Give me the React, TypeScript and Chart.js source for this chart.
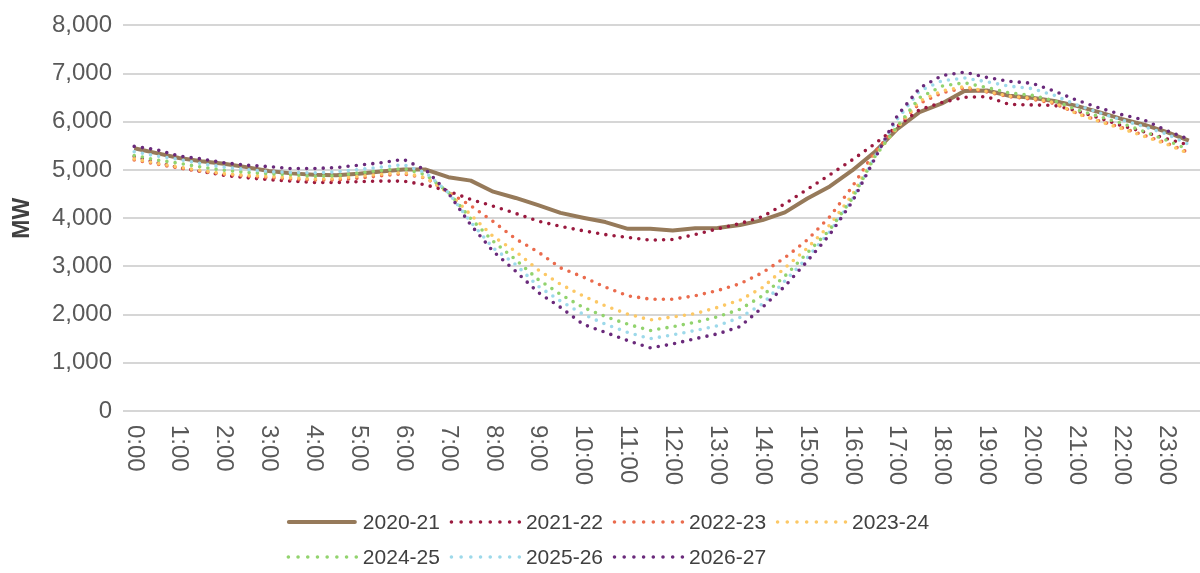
import React, { useEffect, useRef } from 'react';
import { Chart, registerables } from 'chart.js';

Chart.register(...registerables);

const timeLabels = [
  '0:00', '0:30', '1:00', '1:30', '2:00', '2:30', '3:00', '3:30', '4:00', '4:30', '5:00', '5:30',
  '6:00', '6:30', '7:00', '7:30', '8:00', '8:30', '9:00', '9:30', '10:00', '10:30', '11:00', '11:30',
  '12:00', '12:30', '13:00', '13:30', '14:00', '14:30', '15:00', '15:30', '16:00', '16:30', '17:00', '17:30',
  '18:00', '18:30', '19:00', '19:30', '20:00', '20:30', '21:00', '21:30', '22:00', '22:30', '23:00', '23:30',
];

const seriesNames = ['2020-21', '2021-22', '2022-23', '2023-24', '2024-25', '2025-26', '2026-27'];

const s2020_21 = [
  5450, 5350, 5250, 5180, 5130, 5060, 4980, 4930, 4900, 4890, 4920, 4970,
  5010, 5010, 4850, 4780, 4550, 4420, 4270, 4110, 4010, 3920, 3780, 3780,
  3745, 3790, 3795, 3860, 3960, 4120, 4410, 4660, 4990, 5370, 5850, 6200,
  6380, 6640, 6650, 6540, 6500, 6430, 6330, 6200, 6060, 5940, 5790, 5610,
];
const s2021_22 = [
  5280, 5150, 5050, 4970, 4890, 4840, 4800, 4770, 4740, 4740, 4760, 4770,
  4770, 4690, 4560, 4390, 4250, 4100, 3940, 3830, 3740, 3660, 3600, 3545,
  3560, 3660, 3780, 3890, 4030, 4300, 4600, 4900, 5210, 5540, 5900, 6250,
  6400, 6510, 6520, 6360, 6350, 6340, 6230, 6080, 5920, 5790, 5650, 5520,
];
const s2022_23 = [
  5210, 5120, 5040, 4970, 4910, 4870, 4840, 4810, 4790, 4790, 4830, 4880,
  4920, 4830, 4540, 4260, 3930, 3570, 3300, 2970, 2780, 2570, 2390, 2320,
  2320, 2390, 2500, 2640, 2870, 3180, 3550, 4030, 4650, 5370, 5900, 6380,
  6600, 6700, 6620, 6520, 6470, 6380, 6180, 6020, 5880, 5720, 5560, 5360,
];
const s2023_24 = [
  5230, 5140, 5060, 4990, 4925, 4890, 4870, 4840, 4815, 4820, 4870, 4910,
  4945, 4840, 4530, 4070, 3620, 3310, 2930, 2630, 2390, 2180, 2010, 1890,
  1950, 2020, 2150, 2300, 2560, 2970, 3380, 3860, 4480, 5300, 5870, 6430,
  6640, 6730, 6630, 6530, 6490, 6400, 6170, 6010, 5860, 5700, 5540, 5340,
];
const s2024_25 = [
  5300, 5210, 5140, 5060, 4995, 4950, 4925, 4900, 4870, 4880, 4940, 4990,
  5030, 4900, 4540, 3990, 3520, 3140, 2730, 2420, 2150, 1960, 1800, 1670,
  1750, 1840, 1955, 2110, 2390, 2800, 3280, 3760, 4410, 5270, 5900, 6500,
  6740, 6810, 6710, 6600, 6550, 6440, 6250, 6110, 5970, 5800, 5620, 5420,
];
const s2025_26 = [
  5380, 5290, 5220, 5130, 5060, 5010, 4965, 4950, 4940, 4960, 5010, 5060,
  5110, 4940, 4530, 3920, 3380, 3040, 2590, 2280, 2010, 1800, 1630, 1500,
  1580, 1670, 1770, 1940, 2220, 2700, 3180, 3720, 4380, 5270, 6050, 6640,
  6850, 6910, 6830, 6740, 6690, 6550, 6350, 6190, 6040, 5900, 5750, 5530,
];
const s2026_27 = [
  5490, 5420, 5290, 5230, 5150, 5100, 5070, 5030, 5030, 5050, 5100, 5150,
  5220, 5000, 4520, 3860, 3310, 2900, 2460, 2150, 1800, 1630, 1460, 1310,
  1390, 1500, 1600, 1750, 2150, 2590, 3110, 3660, 4340, 5230, 6120, 6700,
  6960, 7030, 6920, 6840, 6800, 6640, 6450, 6290, 6150, 6040, 5820, 5640,
];

const seriesValues = [s2020_21, s2021_22, s2022_23, s2023_24, s2024_25, s2025_26, s2026_27];
const seriesColors = ['#967a5a', '#9a1a3f', '#ea6b4d', '#fcc865', '#92d36e', '#9dd9ea', '#6a2a7b'];
const yTicks = [0, 1000, 2000, 3000, 4000, 5000, 6000, 7000, 8000];

const FONT = '"Liberation Sans", Arial, sans-serif';
const TICK_SIZE = 24;
const LEGEND_SIZE = 21;
const DOT_GAP = 8.3;

const customPlugin = {
  id: 'customDraw',
  afterDraw(chart: any) {
    const ctx = chart.ctx as CanvasRenderingContext2D;
    const xs = chart.scales.x;
    const area = chart.chartArea;
    ctx.save();
    // x tick labels, rotated clockwise
    ctx.font = `${TICK_SIZE}px ${FONT}`;
    ctx.fillStyle = '#595959';
    ctx.textAlign = 'left';
    ctx.textBaseline = 'middle';
    timeLabels.forEach((lab, i) => {
      if (i % 2 !== 0) return;
      const px = xs.getPixelForValue(i);
      ctx.save();
      ctx.translate(px, area.bottom + 14);
      ctx.rotate(Math.PI / 2);
      ctx.fillText(lab, 0, 0);
      ctx.restore();
    });

    // legend
    ctx.font = `${LEGEND_SIZE}px ${FONT}`;
    const sampleW = 70;
    const gapText = 6;
    const gapItem = 10;
    const rows = [[0, 1, 2, 3], [4, 5, 6]];
    const itemW = (i: number) => sampleW + gapText + ctx.measureText(seriesNames[i]).width;
    const rowWidths = rows.map((r) => r.reduce((s, i, k) => s + itemW(i) + (k > 0 ? gapItem : 0), 0));
    const blockW = Math.max(...rowWidths);
    const startX = 608 - blockW / 2;
    const rowY = [522, 557];
    rows.forEach((r, ri) => {
      let x = startX;
      const y = rowY[ri];
      r.forEach((i) => {
        ctx.save();
        ctx.strokeStyle = seriesColors[i];
        ctx.beginPath();
        if (i === 0) {
          ctx.lineWidth = 4;
          ctx.lineCap = 'round';
          ctx.setLineDash([]);
          ctx.moveTo(x + 2, y);
          ctx.lineTo(x + sampleW - 2, y);
        } else {
          ctx.lineWidth = 3.6;
          ctx.lineCap = 'round';
          ctx.setLineDash([0, 9.7]);
          ctx.moveTo(x + 1.5, y);
          ctx.lineTo(x + sampleW, y);
        }
        ctx.stroke();
        ctx.restore();
        ctx.fillStyle = '#404040';
        ctx.textAlign = 'left';
        ctx.textBaseline = 'middle';
        ctx.fillText(seriesNames[i], x + sampleW + gapText, y + 1);
        x += itemW(i) + gapItem;
      });
    });
    ctx.restore();
  },
};

export default function App() {
  const ref = useRef<HTMLCanvasElement | null>(null);
  useEffect(() => {
    if (!ref.current) return;
    const datasets = seriesNames.map((name, i) => ({
      label: name,
      data: seriesValues[i],
      borderColor: seriesColors[i],
      backgroundColor: seriesColors[i],
      borderWidth: i === 0 ? 4 : 3.6,
      borderDash: i === 0 ? [] : [0, DOT_GAP],
      borderCapStyle: i === 0 ? 'butt' : 'round',
      borderJoinStyle: 'round',
      pointRadius: 0,
      pointHoverRadius: 0,
      tension: 0,
      fill: false,
      order: seriesNames.length - i,
    }));
    const chart = new Chart(ref.current, {
      type: 'line',
      data: { labels: timeLabels, datasets: datasets as any },
      options: {
        animation: false,
        responsive: false,
        devicePixelRatio: 1,
        layout: { padding: { top: 22, right: 0, bottom: 100, left: 0 } },
        plugins: {
          legend: { display: false },
          tooltip: { enabled: false },
        },
        scales: {
          x: {
            type: 'category',
            offset: true,
            grid: { display: false },
            border: { display: false },
            ticks: { display: false },
            afterFit: (s: any) => { s.height = 62; },
          },
          y: {
            min: 0,
            max: 8000,
            afterBuildTicks: (s: any) => { s.ticks = yTicks.map((v) => ({ value: v })); },
            grid: { color: '#d6d6d6', lineWidth: 2, drawTicks: false },
            border: { display: false },
            ticks: {
              padding: 11,
              color: '#595959',
              font: { size: TICK_SIZE, family: FONT },
              callback: (v: any) => Number(v).toLocaleString('en-US'),
            },
            title: {
              display: true,
              text: 'MW',
              color: '#404040',
              font: { size: 23, weight: 'bold', family: FONT },
              padding: { top: 9, bottom: 0 },
            },
            afterFit: (s: any) => { s.width = 123; },
          },
        },
      },
      plugins: [customPlugin],
    });
    return () => chart.destroy();
  }, []);
  return (
    <div style={{ position: 'fixed', left: 0, top: 0, width: 1200, height: 573, background: '#fff' }}>
      <canvas ref={ref} width={1200} height={573} style={{ width: 1200, height: 573, display: 'block' }} />
    </div>
  );
}
